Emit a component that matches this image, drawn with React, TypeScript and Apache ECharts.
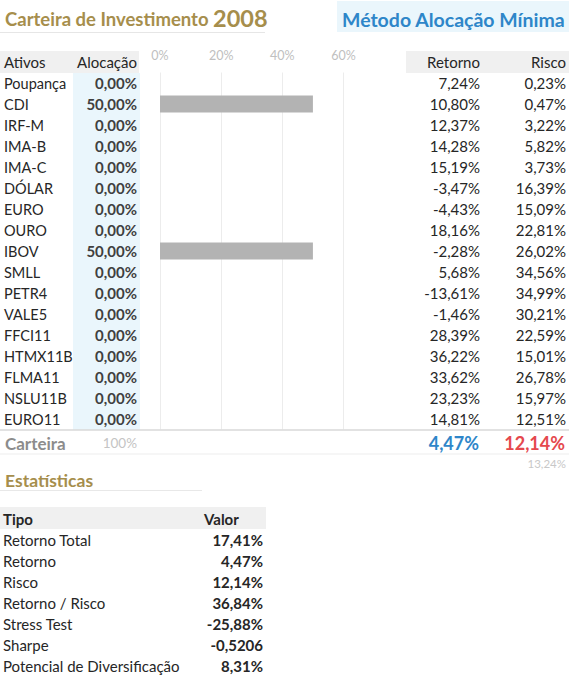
import React, { useEffect, useRef } from "react";
import * as echarts from "echarts";

const assets = ["Poupança","CDI","IRF-M","IMA-B","IMA-C","DÓLAR","EURO","OURO","IBOV","SMLL","PETR4","VALE5","FFCI11","HTMX11B","FLMA11","NSLU11B","EURO11"];
const allocation = [0,50,0,0,0,0,0,0,50,0,0,0,0,0,0,0,0];
const retorno = [7.24,10.80,12.37,14.28,15.19,-3.47,-4.43,18.16,-2.28,5.68,-13.61,-1.46,28.39,36.22,33.62,23.23,14.81];
const risco = [0.23,0.47,3.22,5.82,3.73,16.39,15.09,22.81,26.02,34.56,34.99,30.21,22.59,15.01,26.78,15.97,12.51];
const xTicks = [0, 20, 40, 60];
const portfolioTotal = 100;
const portfolioRetorno = 4.47;
const portfolioRisco = 12.14;
const portfolioRiscoAlt = 13.24;
const statLabels = ["Retorno Total","Retorno","Risco","Retorno / Risco","Stress Test","Sharpe","Potencial de Diversificação"];
const statValues = [17.41,4.47,12.14,36.84,-25.88,-0.5206,8.31];
const statDecimals = [2,2,2,2,2,4,2];
const statPercent = [true,true,true,true,true,false,true];

const W = 569, H = 676;
const FONT = "Lato, 'Noto Sans', sans-serif";
const GOLD = "#a68e4c";
const BLUE = "#2e86c9";
const RED = "#e5484d";
const TXT = "#262626";
const FS = 15;

const fmt = (v: number, d = 2, pct = true) => v.toFixed(d).replace(".", ",") + (pct ? "%" : "");

function txt(text: string, x: number, y: number, o: any = {}) {
  const align = o.align || "left";
  return {
    type: "text",
    x, y,
    z: 10,
    style: {
      text,
      fill: o.fill || TXT,
      fontSize: o.size || FS,
      fontWeight: o.weight || "normal",
      fontFamily: FONT,
      align, textAlign: align,
      verticalAlign: "middle", textVerticalAlign: "middle",
    },
  };
}
function rect(x: number, y: number, w: number, h: number, fill: string) {
  return { type: "rect", z: 0, shape: { x, y, width: w, height: h }, style: { fill } };
}
function hline(x1: number, x2: number, y: number, stroke: string, lw = 1) {
  return { type: "line", z: 1, shape: { x1, y1: y, x2, y2: y }, style: { stroke, lineWidth: lw } };
}

export default function App() {
  const ref = useRef<HTMLDivElement>(null);
  useEffect(() => {
    document.body.style.margin = "0";
    const chart = echarts.init(ref.current!, null, { renderer: "svg" });
    const top = 72.5, rowH = 21, n = assets.length;
    const gridLeft = 160, gridRight = 343.5;
    const rowY = (i: number) => top + (i + 0.5) * rowH;

    const g: any[] = [];
    // Title
    g.push(txt("Carteira de Investimento", 5, 19, { fill: GOLD, size: 18.5, weight: "bold" }));
    g.push(txt("2008", 213, 18, { fill: GOLD, size: 23.5, weight: "bold" }));
    g.push(hline(0, 265, 32.5, "#e6e6e6"));
    g.push(rect(337, 1, W - 337, 31, "#eaf6fc"));
    g.push(txt("Método Alocação Mínima", 342, 19, { fill: BLUE, size: 19.5, weight: "bold" }));

    // headers
    g.push(rect(0, 51, 139, 22, "#f0f0f0"));
    g.push(rect(406, 51, W - 406, 22, "#f0f0f0"));
    g.push(rect(73, 73, 67, n * rowH, "#eaf6fc"));
    g.push(txt("Ativos", 4, 62));
    g.push(txt("Alocação", 137, 62, { align: "right" }));
    g.push(txt("Retorno", 480, 62, { align: "right" }));
    g.push(txt("Risco", 566, 62, { align: "right" }));

    assets.forEach((a, i) => {
      const y = rowY(i);
      g.push(txt(a, 4, y, { size: 14.5 }));
      g.push(txt(fmt(allocation[i]), 137, y, { align: "right", weight: "bold", fill: "#404040" }));
      g.push(txt(fmt(retorno[i]), 480, y, { align: "right" }));
      g.push(txt(fmt(risco[i]), 566, y, { align: "right" }));
    });

    // portfolio row
    const bottom = top + n * rowH;
    g.push(hline(0, W, bottom + 0.5, "#d9d9d9", 1.5));
    g.push(txt("Carteira", 5, 443, { fill: "#8c8c8c", size: 17, weight: "bold" }));
    g.push(txt(portfolioTotal + "%", 137, 443, { fill: "#c4c4c4", size: 13.5, align: "right" }));
    g.push(txt(fmt(portfolioRetorno), 479, 443, { fill: BLUE, size: 18, weight: "bold", align: "right" }));
    g.push(txt(fmt(portfolioRisco), 565, 443, { fill: RED, size: 18, weight: "bold", align: "right" }));
    g.push(hline(0, W, 454, "#ededed"));
    g.push(txt(fmt(portfolioRiscoAlt), 566, 463, { fill: "#c8c8c8", size: 11.5, align: "right" }));

    // statistics
    g.push(txt("Estatísticas", 5, 480, { fill: GOLD, size: 17.5, weight: "bold" }));
    g.push(hline(0, 202, 490.5, "#e8e8e8"));
    g.push(rect(0, 507, 266, 22, "#f0f0f0"));
    g.push(txt("Tipo", 3, 518.5, { weight: "bold" }));
    g.push(txt("Valor", 204, 518.5, { weight: "bold" }));
    statLabels.forEach((l, i) => {
      const y = 540 + i * 21;
      g.push(txt(l, 3, y));
      g.push(txt(fmt(statValues[i], statDecimals[i], statPercent[i]), 263, y, { align: "right", weight: "bold" }));
    });

    chart.setOption({
      animation: false,
      grid: { left: gridLeft, width: gridRight - gridLeft, top, height: n * rowH, containLabel: false },
      xAxis: {
        type: "value",
        position: "top",
        min: xTicks[0],
        max: xTicks[xTicks.length - 1],
        interval: xTicks[1] - xTicks[0],
        axisLine: { show: false },
        axisTick: { show: false },
        axisLabel: { formatter: (v: number) => v + "%", color: "#c0c0c0", fontSize: 12.5, fontFamily: FONT, margin: 11 },
        splitLine: { show: true, lineStyle: { color: "#ececec", width: 1 } },
      },
      yAxis: {
        type: "category",
        data: assets,
        inverse: true,
        show: false,
      },
      series: [{
        type: "bar",
        data: allocation,
        barWidth: 17,
        itemStyle: { color: "#b3b3b3" },
        z: 5,
      }],
      graphic: { elements: g },
    });
    return () => chart.dispose();
  }, []);
  return <div ref={ref} style={{ width: W, height: H, background: "#fff" }} />;
}
